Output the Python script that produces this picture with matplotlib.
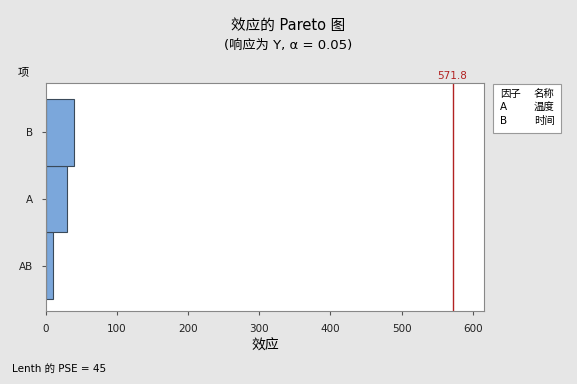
import matplotlib
matplotlib.use("Agg")
import matplotlib.pyplot as plt

plt.rcParams['font.family'] = ['DejaVu Sans', 'Noto Sans CJK SC']

terms = ["AB", "A", "B"]
effects = [10.3, 29.9, 39.5]
ref_value = 571.8
title = "效应的 Pareto 图"
subtitle = "(响应为 Y, α = 0.05)"
xlabel = "效应"
ylabel = "项"
legend_rows = [("因子", "名称"), ("A", "温度"), ("B", "时间")]
footnote = "Lenth 的 PSE = 45"
xticks = [0, 100, 200, 300, 400, 500, 600]

bg = "#e6e6e6"
fig = plt.figure(figsize=(5.77, 3.84), dpi=100, facecolor=bg)
ax = fig.add_axes([46/577, 1-311/384, (484-46)/577, (311-83)/384])
ax.set_facecolor("white")

ypos = list(range(len(terms)))
ax.barh(ypos, effects, height=1.0, color="#7BA7DB", edgecolor="#3a4a5a", linewidth=0.8)
ax.axvline(ref_value, color="#B22222", linewidth=1.0)
ax.text(ref_value, 2.77, f"{ref_value}", color="#B22222", fontsize=7.5, ha="center", va="bottom")

ax.set_xlim(0, 616)
ax.set_ylim(-0.68, 2.74)
ax.set_yticks(ypos)
ax.set_yticklabels(terms, fontsize=7.5, color="#222222")
ax.set_xticks(xticks)
ax.set_xticklabels([str(t) for t in xticks], fontsize=7.5, color="#222222")
ax.tick_params(length=3, color="#555555", pad=6)
for s in ax.spines.values():
    s.set_color("#888888")
    s.set_linewidth(0.8)

ax.set_xlabel(xlabel, fontsize=10, labelpad=4)
fig.text(23/577, 1-72/384, ylabel, fontsize=8, ha="center", va="center")
fig.text(0.5, 1-25/384, title, fontsize=10.5, ha="center", va="center")
fig.text(0.5, 1-45/384, subtitle, fontsize=9.5, ha="center", va="center")
fig.text(12/577, 1-369/384, footnote, fontsize=7.5, ha="left", va="center")

# legend box
lx0, ly0, lw, lh = 493/577, 1-133/384, (561-493)/577, (133-84)/384
rect = plt.Rectangle((lx0, ly0), lw, lh, transform=fig.transFigure, facecolor="white",
                     edgecolor="#999999", linewidth=0.8)
fig.add_artist(rect)
for i, (a, b) in enumerate(legend_rows):
    yy = 1 - (94 + i*13.5)/384
    fig.text(500/577, yy, a, fontsize=7.5, ha="left", va="center")
    fig.text(534/577, yy, b, fontsize=7.5, ha="left", va="center")

fig.savefig("out.png", dpi=100, facecolor=bg)
